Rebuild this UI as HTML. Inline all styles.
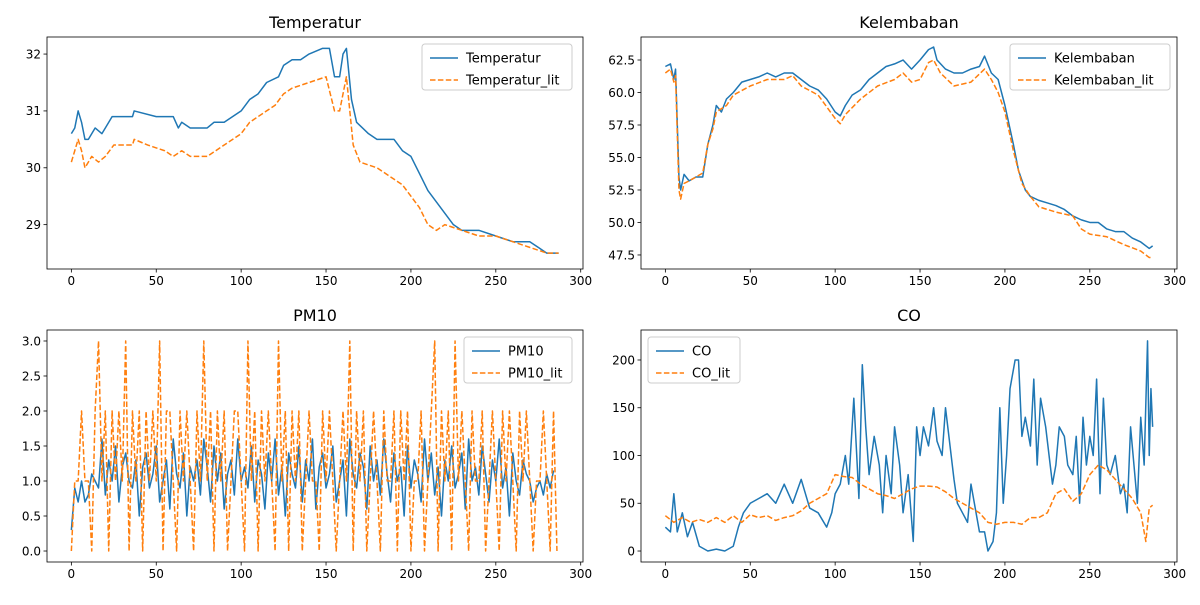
<!DOCTYPE html>
<html><head><meta charset="utf-8"><style>
body{margin:0;background:#fff;font-family:"Liberation Sans","DejaVu Sans",sans-serif}
svg text{font-family:"DejaVu Sans","Liberation Sans",sans-serif}
</style></head><body>
<svg id="chart" width="1200" height="600" xmlns="http://www.w3.org/2000/svg"></svg>
<script>
const tempX=[0,2,4,6,8,10,14,18,20,24,36,37,50,60,63,65,70,80,84,90,100,105,110,115,122,125,130,135,140,148,152,155,158,160,162,165,168,175,180,190,195,200,205,210,215,220,225,230,240,250,260,270,275,280,287];
const tempY=[30.6,30.7,31.0,30.8,30.5,30.5,30.7,30.6,30.7,30.9,30.9,31.0,30.9,30.9,30.7,30.8,30.7,30.7,30.8,30.8,31.0,31.2,31.3,31.5,31.6,31.8,31.9,31.9,32.0,32.1,32.1,31.6,31.6,32.0,32.1,31.2,30.8,30.6,30.5,30.5,30.3,30.2,29.9,29.6,29.4,29.2,29.0,28.9,28.9,28.8,28.7,28.7,28.6,28.5,28.5];
const tempLitX=[0,2,4,6,8,12,16,20,25,36,37,45,55,60,65,70,80,85,95,100,105,115,120,125,130,140,150,155,158,162,166,170,180,190,195,200,205,210,215,220,230,240,250,260,270,280,287];
const tempLitY=[30.1,30.3,30.5,30.3,30.0,30.2,30.1,30.2,30.4,30.4,30.5,30.4,30.3,30.2,30.3,30.2,30.2,30.3,30.5,30.6,30.8,31.0,31.1,31.3,31.4,31.5,31.6,31.0,31.0,31.6,30.4,30.1,30.0,29.8,29.7,29.5,29.3,29.0,28.9,29.0,28.9,28.8,28.8,28.7,28.6,28.5,28.5];
const humX=[0,3,5,6,8,9,11,14,18,22,25,28,30,33,36,40,45,50,55,60,65,70,75,80,85,90,95,100,103,106,110,115,120,125,130,135,140,145,150,155,158,160,165,170,175,180,185,188,192,196,200,205,208,212,215,220,225,230,235,240,245,250,255,260,265,270,275,280,285,287];
const humY=[62.0,62.2,61.0,61.8,53.5,52.5,53.7,53.2,53.5,53.5,56,57.5,59,58.5,59.5,60,60.8,61,61.2,61.5,61.2,61.5,61.5,61,60.5,60.2,59.5,58.5,58.2,59,59.8,60.2,61,61.5,62,62.2,62.5,61.8,62.5,63.3,63.5,62.5,61.8,61.5,61.5,61.8,62,62.8,61.5,61,59,56,54,52.5,52,51.7,51.5,51.3,51,50.5,50.2,50.0,50.0,49.5,49.3,49.3,48.8,48.5,48.0,48.2];
const humLitX=[0,3,5,6,8,9,11,14,22,25,28,30,36,40,50,60,70,75,80,90,100,103,106,115,125,135,140,145,150,155,158,162,170,180,188,192,196,200,205,210,215,220,225,230,240,245,250,260,270,280,285,287];
const humLitY=[61.5,61.8,60.8,61.3,52.5,51.8,53,53.2,53.8,56,57.2,58.5,59,59.8,60.5,61,61,61.3,60.5,59.8,58,57.6,58.3,59.5,60.5,61,61.5,60.8,61,62.3,62.5,61.5,60.5,60.8,61.8,61,60,58.5,55.5,53,52,51.2,51,50.8,50.5,49.5,49.1,48.9,48.3,47.8,47.3,47.3];
const pmStep=2;
const pmY=[0.3,0.9,0.7,1.0,0.7,0.8,1.1,1.0,0.9,1.6,0.8,1.3,1.0,1.5,0.7,1.2,1.4,1.0,0.9,1.3,0.5,1.2,1.4,0.9,1.1,1.5,0.7,1.0,1.3,0.6,1.6,1.1,0.9,1.4,0.5,1.2,1.0,1.3,0.8,1.6,1.2,0.7,1.5,1.0,1.4,0.6,1.1,1.3,0.8,1.6,1.0,1.2,0.9,1.5,0.7,1.3,1.1,0.6,1.4,1.0,1.6,0.8,1.2,0.5,1.4,1.1,0.9,1.5,0.7,1.3,1.0,1.6,0.6,1.2,1.4,0.9,1.1,1.5,0.7,1.0,1.3,0.5,1.6,1.1,0.9,1.4,1.2,0.6,1.5,1.0,1.3,0.8,1.6,1.1,0.7,1.4,1.0,1.2,0.5,1.5,0.9,1.3,1.1,0.7,1.6,1.0,1.4,0.8,1.2,0.5,1.3,1.0,1.5,0.9,1.1,1.4,0.6,1.6,1.0,1.2,0.8,1.5,1.1,0.7,1.3,1.0,1.6,0.9,1.2,0.5,1.4,1.0,0.8,1.3,1.1,1.0,0.7,0.9,1.0,0.8,1.1,0.9,1.15];
const pmLitY=[0,1,1,2,1,1,0,2,3,1,2,0,2,1,2,1,3,0,2,1,2,0,2,1,2,1,3,0,2,2,1,0,2,1,2,1,0,2,1,3,1,2,0,2,1,2,0,1,2,2,1,0,3,1,2,0,2,1,2,1,0,3,1,2,0,2,1,2,0,1,2,1,1,0,2,1,2,1,0,1,2,1,3,0,2,1,2,0,1,2,1,0,2,1,1,2,0,2,1,2,0,1,1,2,0,1,2,3,0,2,1,2,0,3,1,2,1,0,2,1,1,2,0,1,2,1,0,2,1,2,1,0,2,1,2,1,0,1,1,2,1,0,2,0];
const coX=[0,3,5,7,10,13,16,20,25,30,35,40,43,46,50,55,60,65,70,75,80,85,90,95,98,100,103,106,108,111,114,116,118,120,123,126,128,130,133,135,138,140,143,146,148,150,152,155,158,160,163,165,167,170,172,175,178,180,183,185,188,190,193,195,197,199,201,203,206,208,210,212,215,217,219,221,224,226,228,230,232,235,237,240,242,244,246,248,250,252,254,256,258,260,262,265,268,270,272,274,276,278,280,282,284,285,286,287];
const coY=[25,20,60,20,40,15,30,5,0,2,0,5,25,40,50,55,60,50,70,50,75,45,40,25,40,60,70,100,70,160,55,195,130,80,120,90,40,100,60,130,90,40,80,10,130,100,130,110,150,115,100,150,120,75,50,40,30,70,40,20,20,0,10,40,150,50,100,170,200,200,120,140,110,180,90,160,130,100,70,90,130,120,90,80,120,50,140,90,120,100,180,60,160,90,80,100,60,70,40,130,90,50,140,90,220,100,170,130];
const coLitX=[0,5,10,15,20,25,30,35,40,45,50,55,60,65,70,75,80,85,90,95,100,105,110,115,120,125,130,135,140,145,150,155,160,165,170,175,180,185,190,195,200,205,210,215,220,225,230,235,240,245,250,255,260,265,270,275,280,283,285,287];
const coLitY=[37,30,35,30,33,30,35,30,37,30,38,35,37,32,35,37,42,50,55,60,80,78,77,70,65,60,58,55,60,65,68,68,67,62,55,50,45,40,30,28,30,30,28,35,35,40,60,65,52,60,80,90,85,75,65,55,40,10,45,48];
const xTicks=[0,50,100,150,200,250,300];
const tempTicks=[29,30,31,32];
const humTicks=[47.5,50.0,52.5,55.0,57.5,60.0,62.5];
const pmTicks=[0.0,0.5,1.0,1.5,2.0,2.5,3.0];
const coTicks=[0,50,100,150,200];

const svg=document.getElementById('chart');
const NS='http://www.w3.org/2000/svg';
function mk(tag,attrs,parent){const e=document.createElementNS(NS,tag);for(const k in attrs)e.setAttribute(k,attrs[k]);(parent||svg).appendChild(e);return e;}
function idx(arr,step){return arr.map((_,i)=>i*step);}

function panel(cfg){
  const g=mk('g',{});
  
  
  const L=cfg.x0,R=cfg.x1,T=cfg.y0,B=cfg.y1;
  const xs=v=>L+(v-(-14.35))/(301.35+14.35)*(R-L);
  const ys=v=>B-(v-cfg.ymin)/(cfg.ymax-cfg.ymin)*(B-T);
  const t=mk('text',{x:(L+R)/2,y:T-9,'text-anchor':'middle','font-size':16,fill:'#000'},g);
  t.textContent=cfg.title;
  
  
  cfg.series.forEach(s=>{
    const d=s.x.map((xv,i)=>(i?'L':'M')+xs(xv).toFixed(2)+','+ys(s.y[i]).toFixed(2)).join('');
    const p=mk('path',{d:d,fill:'none',stroke:s.color,'stroke-width':1.5,'stroke-linejoin':'round'},g);
    if(s.dash)p.setAttribute('stroke-dasharray','5.5,2.4');
    
    
  });
  const fr=mk('rect',{x:L,y:T,width:R-L,height:B-T,fill:'none',stroke:'#000','stroke-width':0.8},g);
  
  
  xTicks.forEach(v=>{
    const x=xs(v);
    mk('line',{x1:x,x2:x,y1:B,y2:B+3.5,stroke:'#000','stroke-width':0.8},g);
    const tx=mk('text',{x:x,y:B+16,'text-anchor':'middle','font-size':12,fill:'#000'},g);
    tx.textContent=v;
    
    
  });
  cfg.yticks.forEach(v=>{
    const y=ys(v);
    mk('line',{x1:L-3.5,x2:L,y1:y,y2:y,stroke:'#000','stroke-width':0.8},g);
    const ty=mk('text',{x:L-6,y:y+4.3,'text-anchor':'end','font-size':12,fill:'#000'},g);
    ty.textContent=cfg.fmt(v);
    
    
  });
  const lg=mk('g',{},g);
  
  
  mk('rect',{x:cfg.lx,y:T+7,width:cfg.lw,height:46,rx:3,fill:'#fff','fill-opacity':0.8,stroke:'#ccc','stroke-width':1},lg);
  cfg.series.forEach((s,i)=>{
    const y=T+21+i*22;
    const l=mk('line',{x1:cfg.lx+8,x2:cfg.lx+36,y1:y,y2:y,stroke:s.color,'stroke-width':1.5},lg);
    if(s.dash)l.setAttribute('stroke-dasharray','5.5,2.4');
    const tx=mk('text',{x:cfg.lx+44,y:y+4.5,'font-size':13,fill:'#000'},lg);
    tx.textContent=s.label;
    
    
  });
}
const B1='#1f77b4',O1='#ff7f0e';
panel({name:'temperatur',title:'Temperatur',x0:47,x1:583,y0:37,y1:269,ymin:28.22,ymax:32.3,yticks:tempTicks,fmt:v=>v,lx:422,lw:150,
  series:[{x:tempX,y:tempY,color:B1,label:'Temperatur'},{x:tempLitX,y:tempLitY,color:O1,dash:true,label:'Temperatur_lit'}]});
panel({name:'kelembaban',title:'Kelembaban',x0:641,x1:1177,y0:37,y1:269,ymin:46.42,ymax:64.27,yticks:humTicks,fmt:v=>v.toFixed(1),lx:1010,lw:160,
  series:[{x:humX,y:humY,color:B1,label:'Kelembaban'},{x:humLitX,y:humLitY,color:O1,dash:true,label:'Kelembaban_lit'}]});
panel({name:'pm10',title:'PM10',x0:47,x1:583,y0:330,y1:562,ymin:-0.157,ymax:3.157,yticks:pmTicks,fmt:v=>v.toFixed(1),lx:464,lw:108,
  series:[{x:idx(pmY,pmStep),y:pmY,color:B1,label:'PM10'},{x:idx(pmLitY,pmStep),y:pmLitY,color:O1,dash:true,label:'PM10_lit'}]});
panel({name:'co',title:'CO',x0:641,x1:1177,y0:330,y1:562,ymin:-11.5,ymax:231.4,yticks:coTicks,fmt:v=>v,lx:648,lw:92,
  series:[{x:coX,y:coY,color:B1,label:'CO'},{x:coLitX,y:coLitY,color:O1,dash:true,label:'CO_lit'}]});
</script>
</body></html>
